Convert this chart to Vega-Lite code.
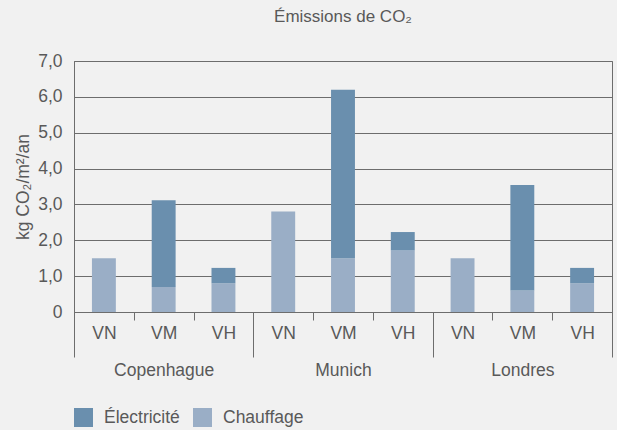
{
  "$schema": "https://vega.github.io/schema/vega-lite/v6.json",
  "width": 538,
  "height": 251,
  "autosize": "none",
  "padding": {"left": 74, "top": 61, "right": 5, "bottom": 118},
  "background": "#f1f1f1",
  "title": {
    "text": "Émissions de CO₂",
    "anchor": "middle",
    "font": "Liberation Sans",
    "fontSize": 17,
    "fontWeight": "normal",
    "color": "#595959",
    "offset": 26
  },
  "config": {
    "view": {"stroke": "#6d6d6d", "strokeWidth": 1},
    "font": "Liberation Sans"
  },
  "data": {
    "values": [
      {"key": "Copenhague|VN", "type": "Chauffage", "value": 1.5},
      {"key": "Copenhague|VN", "type": "Électricité", "value": 0},
      {"key": "Copenhague|VM", "type": "Chauffage", "value": 0.7},
      {"key": "Copenhague|VM", "type": "Électricité", "value": 2.42},
      {"key": "Copenhague|VH", "type": "Chauffage", "value": 0.8},
      {"key": "Copenhague|VH", "type": "Électricité", "value": 0.43},
      {"key": "Munich|VN", "type": "Chauffage", "value": 2.8},
      {"key": "Munich|VN", "type": "Électricité", "value": 0},
      {"key": "Munich|VM", "type": "Chauffage", "value": 1.5},
      {"key": "Munich|VM", "type": "Électricité", "value": 4.7},
      {"key": "Munich|VH", "type": "Chauffage", "value": 1.72},
      {"key": "Munich|VH", "type": "Électricité", "value": 0.51},
      {"key": "Londres|VN", "type": "Chauffage", "value": 1.5},
      {"key": "Londres|VN", "type": "Électricité", "value": 0},
      {"key": "Londres|VM", "type": "Chauffage", "value": 0.6},
      {"key": "Londres|VM", "type": "Électricité", "value": 2.94},
      {"key": "Londres|VH", "type": "Chauffage", "value": 0.8},
      {"key": "Londres|VH", "type": "Électricité", "value": 0.43}
    ]
  },
  "mark": {"type": "bar", "width": {"band": 0.4}},
  "encoding": {
    "x": {
      "field": "key",
      "type": "ordinal",
      "scale": {
        "domain": ["Copenhague|VN", "Copenhague|VM", "Copenhague|VH", "Munich|VN", "Munich|VM", "Munich|VH", "Londres|VN", "Londres|VM", "Londres|VH"],
        "paddingInner": 0,
        "paddingOuter": 0
      },
      "axis": {
        "title": null,
        "labelAngle": 0,
        "tickBand": "extent",
        "domainColor": "#6d6d6d",
        "tickColor": "#6d6d6d",
        "tickSize": {"condition": {"test": "datum.extra || datum.value == 'Copenhague|VH' || datum.value == 'Munich|VH' || datum.value == 'Londres|VH'", "value": 45}, "value": 8},
        "labelPadding": {"condition": {"test": "datum.extra || datum.value == 'Copenhague|VH' || datum.value == 'Munich|VH' || datum.value == 'Londres|VH'", "value": -33}, "value": 4},
        "labelFont": "Liberation Sans",
        "labelFontSize": 17.5,
        "labelColor": "#595959",
        "labelBaseline": "top",
        "labelLineHeight": 37,
        "labelExpr": "!isValid(datum.value) ? '' : datum.value == 'Copenhague|VM' ? ['VM', 'Copenhague'] : datum.value == 'Munich|VM' ? ['VM', 'Munich'] : datum.value == 'Londres|VM' ? ['VM', 'Londres'] : slice(datum.value, -2)"
      }
    },
    "y": {
      "field": "value",
      "type": "quantitative",
      "stack": "zero",
      "scale": {"domain": [0, 7]},
      "axis": {
        "title": "kg CO₂/m²/an",
        "titleFont": "Liberation Sans",
        "titleFontSize": 17.5,
        "titleFontWeight": "normal",
        "titleColor": "#595959",
        "titlePadding": 5,
        "values": [0, 1, 2, 3, 4, 5, 6, 7],
        "ticks": false,
        "labelPadding": 12,
        "labelFont": "Liberation Sans",
        "labelFontSize": 17.5,
        "labelColor": "#595959",
        "labelExpr": "datum.value == 0 ? '0' : replace(format(datum.value, '.1f'), '.', ',')",
        "domainColor": "#6d6d6d",
        "gridColor": "#6d6d6d",
        "gridWidth": 1
      }
    },
    "color": {
      "field": "type",
      "type": "nominal",
      "scale": {"domain": ["Électricité", "Chauffage"], "range": ["#6a8fae", "#9aaec6"]},
      "legend": {
        "title": null,
        "orient": "none",
        "legendX": 0,
        "legendY": 347,
        "direction": "horizontal",
        "padding": 0,
        "symbolType": "square",
        "symbolSize": 361,
        "symbolStrokeWidth": 0,
        "symbolOpacity": 1,
        "labelFont": "Liberation Sans",
        "labelFontSize": 17.5,
        "labelColor": "#595959",
        "labelOffset": 11,
        "columnPadding": 13
      }
    },
    "order": {"field": "type", "sort": "ascending"}
  }
}
